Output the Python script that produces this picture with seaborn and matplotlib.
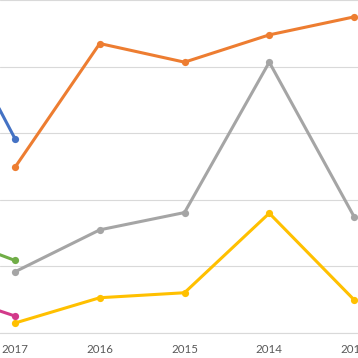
import pandas as pd
import numpy as np
import matplotlib
matplotlib.use("Agg")
import matplotlib.pyplot as plt
import seaborn as sns

# category axis (first one sits just off the left edge of the crop)
years = ["2018", "2017", "2016", "2015", "2014", "2013"]

# series values (arbitrary units, gridline = 10)
blue_vals = [53.4, 29.2, np.nan, np.nan, np.nan, np.nan]
green_vals = [15.7, 10.9, np.nan, np.nan, np.nan, np.nan]
pink_vals = [6.8, 2.55, np.nan, np.nan, np.nan, np.nan]
orange_vals = [np.nan, 24.9, 43.5, 40.7, 44.8, 47.5]
gray_vals = [np.nan, 9.2, 15.5, 18.1, 40.7, 17.5]
yellow_vals = [np.nan, 1.5, 5.3, 6.05, 18.0, 5.0]

series = {
    "blue": blue_vals,
    "orange": orange_vals,
    "gray": gray_vals,
    "yellow": yellow_vals,
    "green": green_vals,
    "pink": pink_vals,
}
colors = {
    "blue": "#4472C4",
    "orange": "#ED7D31",
    "gray": "#A5A5A5",
    "yellow": "#FFC000",
    "green": "#70AD47",
    "pink": "#D23A8A",
}

rows = []
for name, vals in series.items():
    for i, v in enumerate(vals):
        rows.append({"series": name, "idx": i, "value": v})
df = pd.DataFrame(rows)

sns.set_style("white")
plt.rcParams["font.family"] = ["Lato", "DejaVu Sans"]

fig = plt.figure(figsize=(3.58, 3.58), dpi=100)
ax = fig.add_axes([0, 25 / 358, 1, 333 / 358])

for name in series:
    sub = df[(df["series"] == name) & df["value"].notna()]
    sns.lineplot(data=sub, x="idx", y="value", ax=ax, color=colors[name],
                 linewidth=2.2, marker="o", markersize=5.2,
                 markeredgewidth=0, zorder=3)

ax.set_yticks(np.arange(0, 51, 10))
ax.set_yticklabels([])
ax.grid(axis="y", color="#D9D9D9", linewidth=0.8)
ax.set_axisbelow(True)
ax.set_xticks(range(len(years)))
ax.set_xticklabels(years, color="#595959", fontsize=8.3)
ax.tick_params(axis="x", length=0, pad=7.8)
ax.tick_params(axis="y", length=0)
ax.set_xlim(0.823, 5.047)
ax.set_ylim(0, 50.04)
ax.set_xlabel("")
ax.set_ylabel("")
for s in ["top", "left", "right"]:
    ax.spines[s].set_visible(False)
ax.spines["bottom"].set_color("#D9D9D9")
ax.spines["bottom"].set_linewidth(0.8)
if ax.get_legend():
    ax.get_legend().remove()

fig.savefig("out.png", dpi=100)
